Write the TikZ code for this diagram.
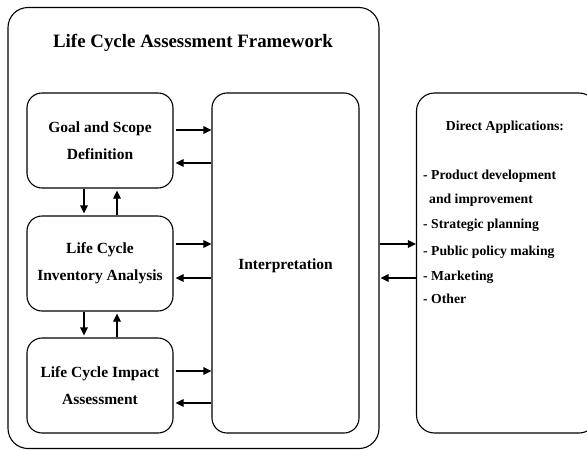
\documentclass[tikz,border=0pt]{standalone}
\usepackage{fontspec}
\setmainfont{Liberation Serif}
\usetikzlibrary{arrows.meta}
\begin{document}
\begin{tikzpicture}[x=1pt,y=-1pt,
  box/.style={draw,line width=1.1pt,rounded corners=15pt,align=center,
    font=\fontsize{15.5}{27}\selectfont\bfseries,inner sep=0pt},
  arr/.style={line width=1.1pt,-{Triangle[length=8pt,width=7.5pt]}},
  item/.style={anchor=west,inner sep=0pt,font=\fontsize{13.7}{16}\selectfont\bfseries,
    text height=0.7em,text depth=0.2em}]
\useasboundingbox (0,0) rectangle (587,450);
\begin{scope}
\clip (0,0) rectangle (587,450);
\node[draw,line width=1.1pt,rounded corners=18pt,minimum width=180.5pt,minimum height=340pt] (apps) at (506.75,263) {};
\end{scope}
\node[draw,line width=1.1pt,rounded corners=20pt,minimum width=371pt,minimum height=441pt] (frame) at (193.5,228) {};
\node[font=\fontsize{18.9}{22}\selectfont\bfseries] (title) at (193,43) {Life Cycle Assessment Framework};
\node[box,minimum width=146pt,minimum height=95pt] (goal) at (100,140.5) {Goal and Scope\\Definition};
\node[box,minimum width=146pt,minimum height=95pt] (inv) at (100,263.5) {Life Cycle\\Inventory Analysis};
\node[box,minimum width=146pt,minimum height=95pt] (imp) at (100,385.5) {Life Cycle Impact\\Assessment};
\node[box,minimum width=147pt,minimum height=340pt] (interp) at (285.5,263) {};
\node[font=\fontsize{15.5}{20}\selectfont\bfseries] (interptext) at (285.5,266) {Interpretation};
\node[font=\fontsize{13.7}{16}\selectfont\bfseries] (appstitle) at (505,127) {Direct Applications:};
\node[item] (l1) at (423,177) {- Product development};
\node[item] (l2) at (429,201) {and improvement};
\node[item] (l3) at (423,226) {- Strategic planning};
\node[item] (l4) at (423,253) {- Public policy making};
\node[item] (l5) at (423,278) {- Marketing};
\node[item] (l6) at (423,301) {- Other};
% horizontal arrows
\draw[arr,shorten <=2pt] (goal.east |- 0,130) -- (interp.west |- 0,130);
\draw[arr,shorten >=2pt] (interp.west |- 0,163) -- (goal.east |- 0,163);
\draw[arr,shorten <=2pt] (inv.east |- 0,244) -- (interp.west |- 0,244);
\draw[arr,shorten >=2pt] (interp.west |- 0,278) -- (inv.east |- 0,278);
\draw[arr,shorten <=2pt] (imp.east |- 0,371) -- (interp.west |- 0,371);
\draw[arr,shorten >=2pt] (interp.west |- 0,403) -- (imp.east |- 0,403);
% vertical arrows
\draw[arr,shorten >=2pt] (goal.south -| 84,0) -- (inv.north -| 84,0);
\draw[arr,shorten >=2pt] (inv.north -| 117,0) -- (goal.south -| 117,0);
\draw[arr,shorten >=2pt] (inv.south -| 84,0) -- (imp.north -| 84,0);
\draw[arr,shorten >=2pt] (imp.north -| 117,0) -- (inv.south -| 117,0);
% frame <-> applications
\draw[arr] (frame.east |- 0,244) -- (apps.west |- 0,244);
\draw[arr,shorten >=1pt] (apps.west |- 0,278) -- (frame.east |- 0,278);
\end{tikzpicture}
\end{document}
